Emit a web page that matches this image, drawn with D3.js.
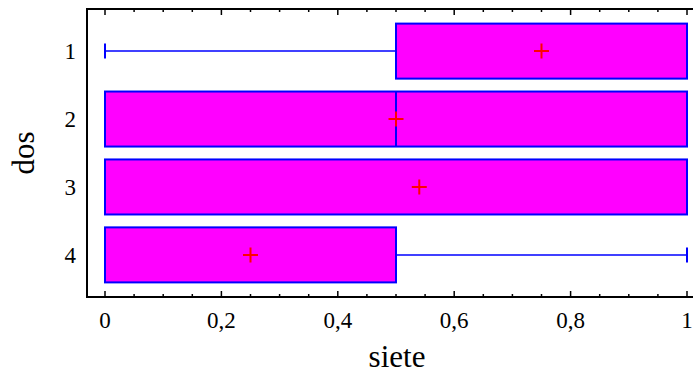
<!DOCTYPE html>
<html>
<head>
<meta charset="utf-8">
<script src="https://cdn.jsdelivr.net/npm/d3@7"></script>
<style>
  body { margin: 0; background: #fff; }
  text { font-family: "Liberation Serif", "Times New Roman", serif; fill: #000; }
</style>
</head>
<body>
<svg width="695" height="376"></svg>
<script>
// box-and-whisker data per level of "dos"
var categories = ["1", "2", "3", "4"];
var mins    = [0,    0,   0,    0];
var q1s     = [0.5,  0,   0,    0];
var medians = [1,    0.5, 1,    0];
var q3s     = [1,    1,   1,    0.5];
var maxs    = [1,    1,   1,    1];
var means   = [0.75, 0.5, 0.54, 0.25];
var xTicks  = [0, 0.2, 0.4, 0.6, 0.8, 1];

var plotLeft = 87, plotRight = 693, plotTop = 9, plotBottom = 297;

var svg = d3.select('svg');

var x = d3.scaleLinear().domain([0, 1]).range([105, 687]);
var y = d3.scalePoint().domain(categories).range([plotTop, plotBottom]).padding(0.62);
var boxH = y.step() * 0.81;
var capH = 15;

var rows = categories.map(function (c, i) {
    return { cat: c, min: mins[i], q1: q1s[i], med: medians[i], q3: q3s[i], max: maxs[i], mean: means[i] };
});

// frame: left, top and bottom lines
svg.append('path')
    .attr('d', `M${plotRight},${plotTop}H${plotLeft}V${plotBottom}H${plotRight}`)
    .attr('fill', 'none')
    .attr('stroke', '#000')
    .attr('stroke-width', 2);

// ticks on top and bottom (inside)
var minor = d3.range(0, 1.0001, 0.05);
minor.forEach(function (v) {
    var isMajor = Math.abs(v * 5 - Math.round(v * 5)) < 1e-6;
    var len = isMajor ? 6 : 3;
    svg.append('line')
        .attr('x1', x(v)).attr('x2', x(v))
        .attr('y1', plotTop).attr('y2', plotTop + len)
        .attr('stroke', '#000').attr('stroke-width', 1.5);
    svg.append('line')
        .attr('x1', x(v)).attr('x2', x(v))
        .attr('y1', plotBottom).attr('y2', plotBottom - len)
        .attr('stroke', '#000').attr('stroke-width', 1.5);
});

// x tick labels
svg.selectAll('.xlab')
    .data(xTicks)
    .enter()
    .append('text')
    .attr('x', d => x(d))
    .attr('y', 328)
    .attr('text-anchor', 'middle')
    .style('font-size', '23px')
    .text(d => String(d).replace('.', ','));

// y tick labels
svg.selectAll('.ylab')
    .data(categories)
    .enter()
    .append('text')
    .attr('x', 76)
    .attr('y', d => y(d))
    .attr('dy', '0.35em')
    .attr('text-anchor', 'end')
    .style('font-size', '23px')
    .text(d => d);

// axis titles
svg.append('text')
    .attr('x', 397).attr('y', 367)
    .attr('text-anchor', 'middle')
    .style('font-size', '31px')
    .text('siete');

svg.append('text')
    .attr('transform', `translate(34,${(plotTop + plotBottom) / 2}) rotate(-90)`)
    .attr('text-anchor', 'middle')
    .style('font-size', '31px')
    .text('dos');

var g = svg.selectAll('.box')
    .data(rows)
    .enter()
    .append('g');

// whiskers
g.append('line')
    .attr('x1', d => x(d.min)).attr('x2', d => x(d.q1))
    .attr('y1', d => y(d.cat)).attr('y2', d => y(d.cat))
    .attr('stroke', '#0000ff').attr('stroke-width', 1.5);
g.append('line')
    .attr('x1', d => x(d.q3)).attr('x2', d => x(d.max))
    .attr('y1', d => y(d.cat)).attr('y2', d => y(d.cat))
    .attr('stroke', '#0000ff').attr('stroke-width', 1.5);

// boxes
g.append('rect')
    .attr('x', d => x(d.q1))
    .attr('y', d => y(d.cat) - boxH / 2)
    .attr('width', d => x(d.q3) - x(d.q1))
    .attr('height', boxH)
    .attr('fill', '#ff00ff')
    .attr('stroke', '#0000ff')
    .attr('stroke-width', 2);

// caps
g.append('line')
    .attr('x1', d => x(d.min)).attr('x2', d => x(d.min))
    .attr('y1', d => y(d.cat) - capH / 2).attr('y2', d => y(d.cat) + capH / 2)
    .attr('stroke', '#0000ff').attr('stroke-width', 2);
g.append('line')
    .attr('x1', d => x(d.max)).attr('x2', d => x(d.max))
    .attr('y1', d => y(d.cat) - capH / 2).attr('y2', d => y(d.cat) + capH / 2)
    .attr('stroke', '#0000ff').attr('stroke-width', 2);

// medians
g.append('line')
    .attr('x1', d => x(d.med)).attr('x2', d => x(d.med))
    .attr('y1', d => y(d.cat) - boxH / 2).attr('y2', d => y(d.cat) + boxH / 2)
    .attr('stroke', '#0000ff').attr('stroke-width', 2);

// mean markers
g.append('path')
    .attr('d', d => `M${x(d.mean) - 7.5},${y(d.cat)}h15M${x(d.mean)},${y(d.cat) - 7.5}v15`)
    .attr('stroke', '#ff0000')
    .attr('stroke-width', 2);
</script>
</body>
</html>
